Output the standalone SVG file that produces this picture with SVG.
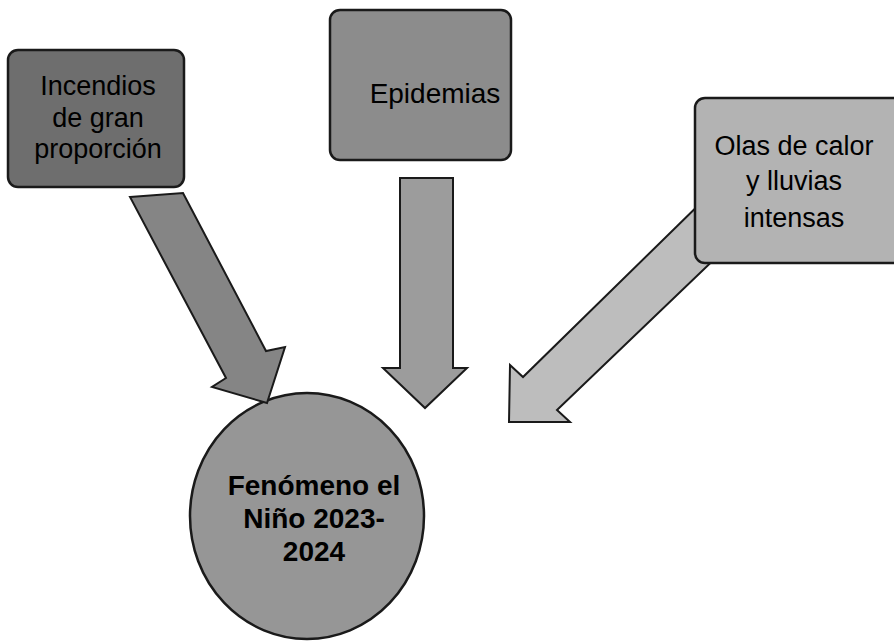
<svg xmlns="http://www.w3.org/2000/svg" width="894" height="643" viewBox="0 0 894 643">
<style>
.box{stroke:#1a1a1a;stroke-width:2.5}
.arr{stroke:#1a1a1a;stroke-width:2;stroke-linejoin:miter}
.t{font-family:"Liberation Sans",Arial,sans-serif;fill:#000;text-anchor:middle}
</style>
<rect width="894" height="643" fill="#fff"/>
<g id="nino">
<ellipse cx="307" cy="516" rx="117" ry="123" fill="#969696" class="box"/>
<text class="t" font-size="28" font-weight="bold" x="314" y="495">Fenómeno el</text>
<text class="t" font-size="28" font-weight="bold" x="314" y="528">Niño 2023-</text>
<text class="t" font-size="28" font-weight="bold" x="314" y="561">2024</text>
</g>
<g id="connectors">
<polygon class="arr" fill="#858585" points="130,197 183,193 266,351 285,347 267,403 212,387 226,378"/>
<polygon class="arr" fill="#9c9c9c" points="400,178 453,178 453,368 467,368 425,408 383,368 400,368"/>
<polygon class="arr" fill="#bdbdbd" points="714,190 749,226 557,410 570,422 509,422 510,365 523,377"/>
</g>
<g id="incendios">
<rect x="8" y="50" width="176" height="137" rx="10" fill="#6e6e6e" class="box"/>
<text class="t" font-size="27" x="98" y="95">Incendios</text>
<text class="t" font-size="27" x="98" y="127">de gran</text>
<text class="t" font-size="27" x="98" y="158">proporción</text>
</g>
<g id="epidemias">
<rect x="330" y="10" width="181" height="150" rx="10" fill="#8c8c8c" class="box"/>
<text class="t" font-size="28" x="435" y="103">Epidemias</text>
</g>
<g id="olas">
<rect x="695" y="98" width="210" height="165" rx="10" fill="#b3b3b3" class="box"/>
<text class="t" font-size="27" x="794" y="155">Olas de calor</text>
<text class="t" font-size="27" x="794" y="190">y lluvias</text>
<text class="t" font-size="27" x="794" y="227">intensas</text>
</g>
</svg>
